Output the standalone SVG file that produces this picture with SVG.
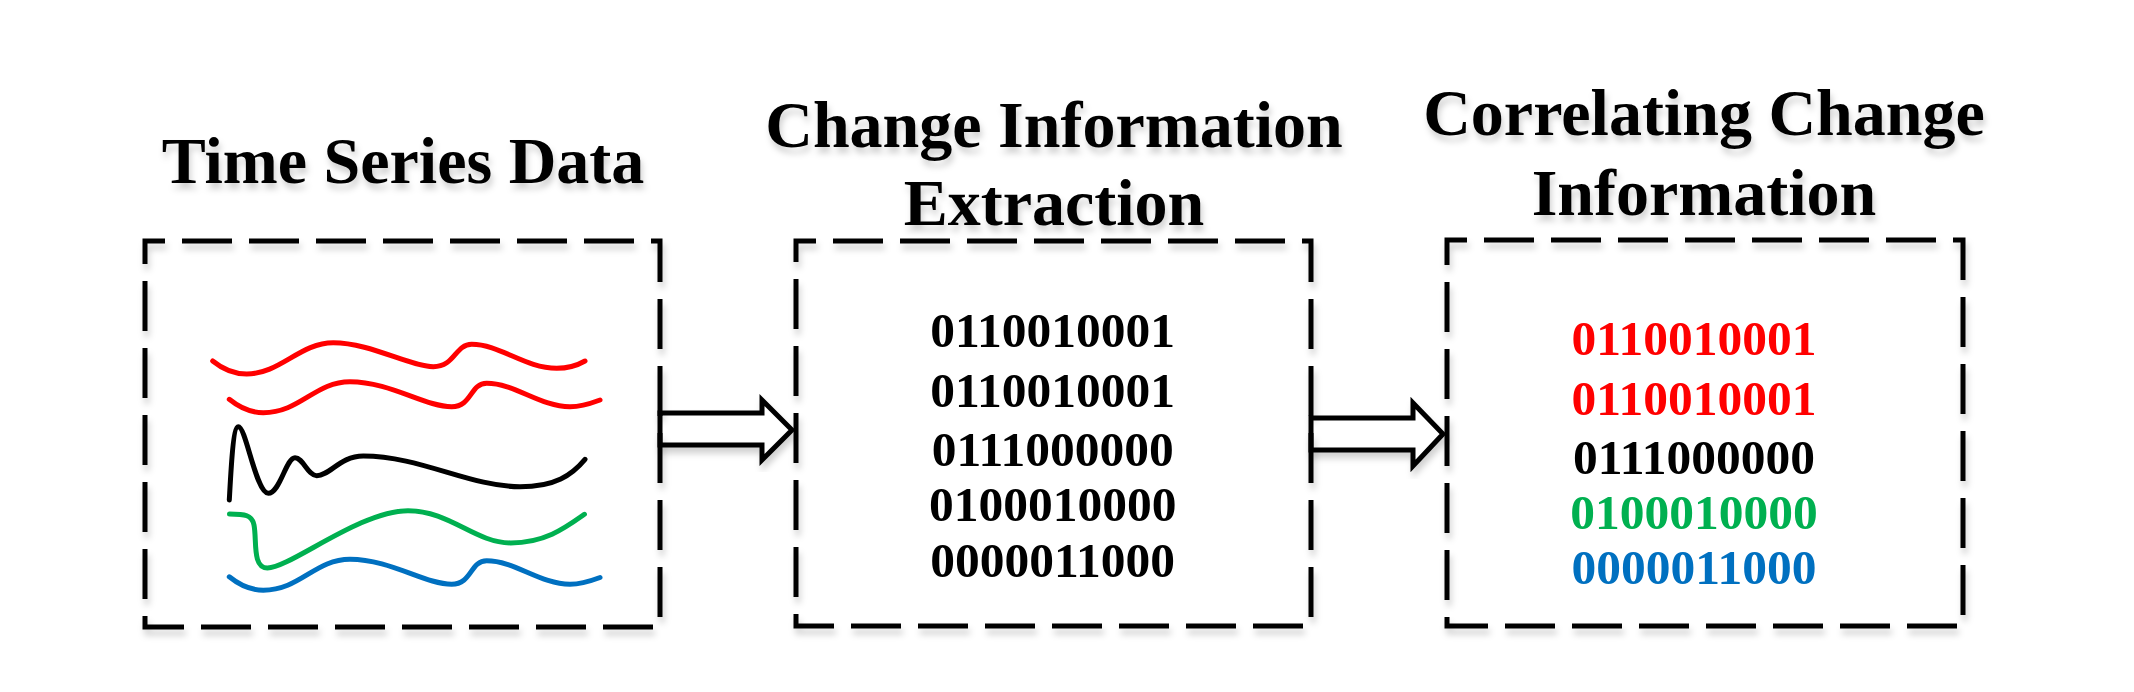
<svg xmlns="http://www.w3.org/2000/svg" width="2134" height="692" viewBox="0 0 2134 692">
<defs>
<filter id="sh" x="-10%" y="-10%" width="120%" height="130%">
<feDropShadow dx="2" dy="6" stdDeviation="3" flood-color="#000" flood-opacity="0.18"/>
</filter>
<style>
.title{font-family:"Liberation Serif","Times New Roman",serif;font-weight:bold;font-size:66px;fill:#000;text-anchor:middle;filter:url(#sh)}
.bits{font-family:"Liberation Serif","Times New Roman",serif;font-weight:bold;font-size:49.5px;text-anchor:middle}
.box{fill:none;stroke:#000;stroke-width:5;stroke-dasharray:50 17;stroke-dashoffset:30;filter:url(#sh)}
.arrow{fill:#fff;stroke:#000;stroke-width:5;stroke-linejoin:miter;filter:url(#sh)}
.curve{fill:none;stroke-width:5;stroke-linecap:round;stroke-linejoin:round}
</style>
</defs>
<rect width="2134" height="692" fill="#fff"/>

<g id="connectors">
<polygon class="arrow" points="660,413 762,413 762,400 792,430 762,460 762,445 660,445"/>
<polygon class="arrow" points="1311,418 1413,418 1413,403 1443,434 1413,466 1413,450 1311,450"/>
</g>

<g id="node-time-series">
<text class="title" x="403" y="183">Time Series Data</text>
<rect class="box" x="145" y="241" width="515" height="386"/>
<path class="curve" stroke="#ff0000" d="M212.7,361 C225,371 235,374 246.7,374 C280,374 300,342.7 333.3,342.7 C370,342.7 410,366.7 433.3,366.7 C455,366.7 455,344.3 471.7,344.3 C500,344.3 525,368.3 556.7,368.3 C570,368.3 578,365 585,361"/>
<path class="curve" stroke="#ff0000" d="M229.3,399.3 C240,408 250,412.7 263.3,412.7 C300,412.7 315,381.7 350,381.7 C390,381.7 425,406.7 451.7,406.7 C472,406.7 470,383.3 486.7,383.3 C515,383.3 540,406.7 570,406.7 C583,406.7 592,403 600,400"/>
<path class="curve" stroke="#000" d="M229.3,500 C231,470 233,426.7 238.3,426.7 C246,426.7 256,493.3 268.3,493.3 C280,493.3 286,457.7 295,457.7 C303,457.7 308,475.7 316.7,475.7 C330,475.7 340,456 363.3,456 C420,456 470,486.7 520,486.7 C555,486.7 572,475 585,459.3"/>
<path class="curve" stroke="#00b050" d="M229.5,514 C245,514 252,515 254,525 C257,540 252,568 267.4,568 C290,568 360,510.7 408,510.7 C450,510.7 475,542.9 510.7,542.9 C545,542.9 565,528 584.4,514.3"/>
<path class="curve" stroke="#0070c0" d="M229.3,576.8 C240,585.5 250,590.2 263.3,590.2 C300,590.2 315,559.2 350,559.2 C390,559.2 425,584.2 451.7,584.2 C472,584.2 470,560.8 486.7,560.8 C515,560.8 540,584.2 570,584.2 C583,584.2 592,580.5 600,577.5"/>
</g>

<g id="node-extraction">
<text class="title" x="1054" y="146.6">Change Information</text>
<text class="title" x="1054" y="225">Extraction</text>
<rect class="box" x="796" y="241" width="515" height="385"/>
<g class="bits" fill="#000">
<text x="1052.7" y="346.7">0110010001</text>
<text x="1052.7" y="406.7">0110010001</text>
<text x="1052.7" y="465.7">0111000000</text>
<text x="1052.7" y="521">0100010000</text>
<text x="1052.7" y="576.7">0000011000</text>
</g>
</g>

<g id="node-correlating">
<text class="title" x="1704" y="134.6">Correlating Change</text>
<text class="title" x="1704" y="215">Information</text>
<rect class="box" x="1447" y="240" width="516" height="386"/>
<g class="bits">
<text x="1694" y="355.4" fill="#ff0000">0110010001</text>
<text x="1694" y="414.8" fill="#ff0000">0110010001</text>
<text x="1694" y="474" fill="#000">0111000000</text>
<text x="1694" y="528.8" fill="#00b050">0100010000</text>
<text x="1694" y="583.5" fill="#0070c0">0000011000</text>
</g>
</g>
</svg>
